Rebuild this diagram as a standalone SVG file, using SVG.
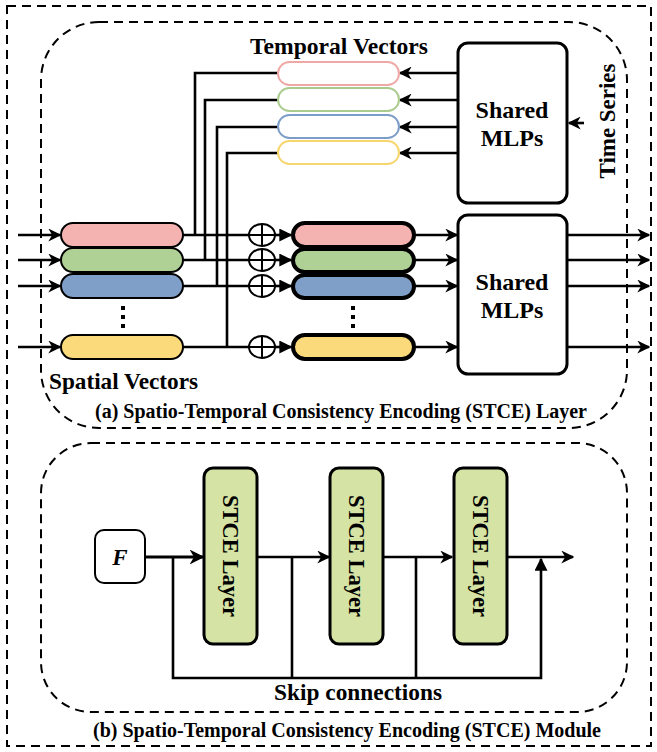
<svg xmlns="http://www.w3.org/2000/svg" width="657" height="752" viewBox="0 0 657 752">
<style>
.dash{fill:none;stroke:#000;stroke-width:2;stroke-dasharray:9 6}
.ln{fill:none;stroke:#000;stroke-width:2.6}
.sv{stroke:#000;stroke-width:2}
.bv{stroke:#000;stroke-width:4}
.tv{fill:#fff;stroke-width:2}
.box{fill:#fff;stroke:#000;stroke-width:3}
.layer{fill:#D5E3A4;stroke:#000;stroke-width:3}
.t{font-family:"Liberation Serif",serif;font-weight:bold;fill:#000}
.pk{fill:#F4B3B0}.gr{fill:#B0D196}.bl{fill:#7F9FC8}.yl{fill:#FADA7A}
</style>
<defs>
<marker id="a" viewBox="0 0 10 10" refX="9" refY="5" markerWidth="5" markerHeight="5" orient="auto" markerUnits="strokeWidth">
<path d="M0,0 L10,5 L0,10 L3,5 z" fill="#000"/>
</marker>
<marker id="b" viewBox="0 0 10 10" refX="9" refY="5" markerWidth="5" markerHeight="5" orient="auto" markerUnits="strokeWidth">
<path d="M0,0 L10,5 L0,10 z" fill="#000"/>
</marker>
</defs>

<g id="frames">
<rect class="dash" x="7" y="6" width="644" height="740"/>
<rect class="dash" x="41" y="22" width="586" height="406" rx="58"/>
<rect class="dash" x="41" y="443" width="586" height="269" rx="50"/>
</g>

<g id="connectors">
<line class="ln" x1="18" y1="235" x2="60" y2="235" marker-end="url(#a)"/>
<line class="ln" x1="18" y1="260" x2="60" y2="260" marker-end="url(#a)"/>
<line class="ln" x1="18" y1="286" x2="60" y2="286" marker-end="url(#a)"/>
<line class="ln" x1="18" y1="347" x2="60" y2="347" marker-end="url(#a)"/>
<line class="ln" x1="183" y1="235" x2="249" y2="235"/>
<line class="ln" x1="183" y1="260" x2="249" y2="260"/>
<line class="ln" x1="183" y1="286" x2="249" y2="286"/>
<line class="ln" x1="183" y1="347" x2="249" y2="347"/>
<polyline class="ln" points="278,73 195,73 195,235"/>
<polyline class="ln" points="278,100 205,100 205,260"/>
<polyline class="ln" points="278,127 217,127 217,286"/>
<polyline class="ln" points="278,153 227,153 227,347"/>
<line class="ln" x1="275" y1="235" x2="291" y2="235" marker-end="url(#b)"/>
<line class="ln" x1="275" y1="260" x2="291" y2="260" marker-end="url(#b)"/>
<line class="ln" x1="275" y1="286" x2="291" y2="286" marker-end="url(#b)"/>
<line class="ln" x1="275" y1="347" x2="291" y2="347" marker-end="url(#b)"/>
<line class="ln" x1="415" y1="235" x2="457" y2="235" marker-end="url(#a)"/>
<line class="ln" x1="415" y1="260" x2="457" y2="260" marker-end="url(#a)"/>
<line class="ln" x1="415" y1="286" x2="457" y2="286" marker-end="url(#a)"/>
<line class="ln" x1="415" y1="347" x2="457" y2="347" marker-end="url(#a)"/>
<line class="ln" x1="567" y1="235" x2="649" y2="235" marker-end="url(#a)"/>
<line class="ln" x1="567" y1="260" x2="649" y2="260" marker-end="url(#a)"/>
<line class="ln" x1="567" y1="286" x2="649" y2="286" marker-end="url(#a)"/>
<line class="ln" x1="567" y1="347" x2="649" y2="347" marker-end="url(#a)"/>
<line class="ln" x1="458" y1="73" x2="400" y2="73" marker-end="url(#a)"/>
<line class="ln" x1="458" y1="100" x2="400" y2="100" marker-end="url(#a)"/>
<line class="ln" x1="458" y1="127" x2="400" y2="127" marker-end="url(#a)"/>
<line class="ln" x1="458" y1="153" x2="400" y2="153" marker-end="url(#a)"/>
<line class="ln" x1="584" y1="123" x2="569" y2="123" marker-end="url(#a)"/>
<line class="ln" x1="145" y1="557" x2="203" y2="557" marker-end="url(#a)" style="stroke-width:3"/>
<line class="ln" x1="257" y1="557" x2="329" y2="557" marker-end="url(#a)"/>
<line class="ln" x1="383" y1="557" x2="452" y2="557" marker-end="url(#a)"/>
<line class="ln" x1="507" y1="557" x2="573" y2="557" marker-end="url(#a)"/>
<polyline class="ln" points="173,557 173,678 541,678 541,559" marker-end="url(#b)"/>
<line class="ln" x1="292" y1="557" x2="292" y2="678"/>
<line class="ln" x1="416" y1="557" x2="416" y2="678"/>
</g>

<g id="spatial-vectors">
<rect class="sv pk" x="61" y="223" width="122" height="24" rx="12"/>
<rect class="sv gr" x="61" y="248" width="122" height="24" rx="12"/>
<rect class="sv bl" x="61" y="274" width="122" height="24" rx="12"/>
<rect class="sv yl" x="61" y="335" width="122" height="24" rx="12"/>
<rect x="121" y="306" width="4" height="4"/>
<rect x="121" y="315" width="4" height="4"/>
<rect x="121" y="324" width="4" height="4"/>
<text class="t" x="49" y="389" font-size="24" textLength="149" lengthAdjust="spacingAndGlyphs">Spatial Vectors</text>
</g>

<g id="temporal-vectors">
<rect class="tv" stroke="#EEA9A6" x="278" y="62" width="121" height="23" rx="11.5"/>
<rect class="tv" stroke="#A9CC8E" x="278" y="88" width="121" height="23" rx="11.5"/>
<rect class="tv" stroke="#7D9DC9" x="278" y="115" width="121" height="23" rx="11.5"/>
<rect class="tv" stroke="#F8D66E" x="278" y="141" width="121" height="23" rx="11.5"/>
<text class="t" x="339" y="54" font-size="24" text-anchor="middle" textLength="178" lengthAdjust="spacingAndGlyphs">Temporal Vectors</text>
</g>

<g id="plus">
<g class="ln" style="stroke-width:2">
<ellipse cx="262" cy="235" rx="13" ry="11"/><path d="M249,235H275M262,224V246"/>
<ellipse cx="262" cy="260" rx="13" ry="11"/><path d="M249,260H275M262,249V271"/>
<ellipse cx="262" cy="286" rx="13" ry="11"/><path d="M249,286H275M262,275V297"/>
<ellipse cx="262" cy="347" rx="13" ry="11"/><path d="M249,347H275M262,336V358"/>
</g>
</g>

<g id="fused-vectors">
<rect class="bv pk" x="293" y="223" width="121" height="24" rx="12"/>
<rect class="bv gr" x="293" y="249" width="121" height="23" rx="11.5"/>
<rect class="bv bl" x="293" y="275" width="121" height="23" rx="11.5"/>
<rect class="bv yl" x="293" y="335" width="121" height="24" rx="12"/>
<rect x="351" y="306" width="4" height="4"/>
<rect x="351" y="315" width="4" height="4"/>
<rect x="351" y="324" width="4" height="4"/>
</g>

<g id="mlp-top">
<rect class="box" x="458" y="43" width="109" height="160" rx="10"/>
<text class="t" x="512" y="118" font-size="24" text-anchor="middle">Shared</text>
<text class="t" x="512" y="146" font-size="24" text-anchor="middle">MLPs</text>
</g>
<g id="mlp-bottom">
<rect class="box" x="458" y="215" width="109" height="159" rx="10"/>
<text class="t" x="512" y="290" font-size="24" text-anchor="middle">Shared</text>
<text class="t" x="512" y="318" font-size="24" text-anchor="middle">MLPs</text>
</g>
<text class="t" font-size="23" text-anchor="middle" textLength="115" lengthAdjust="spacingAndGlyphs" transform="translate(615,121) rotate(-90)">Time Series</text>

<text class="t" x="341" y="418" font-size="20" text-anchor="middle" textLength="492" lengthAdjust="spacingAndGlyphs">(a) Spatio-Temporal Consistency Encoding (STCE) Layer</text>

<g id="input-F">
<rect class="box" x="95" y="530" width="50" height="53" rx="9" style="stroke-width:2"/>
<text x="120" y="565" font-family="Liberation Serif,serif" font-weight="bold" font-style="italic" font-size="23" text-anchor="middle">F</text>
</g>
<g id="stce1">
<rect class="layer" x="204" y="468" width="53" height="176" rx="9"/>
<text class="t" font-size="23" text-anchor="middle" textLength="122" lengthAdjust="spacingAndGlyphs" transform="translate(223,556) rotate(90)">STCE Layer</text>
</g>
<g id="stce2">
<rect class="layer" x="330" y="468" width="53" height="176" rx="9"/>
<text class="t" font-size="23" text-anchor="middle" textLength="122" lengthAdjust="spacingAndGlyphs" transform="translate(349,556) rotate(90)">STCE Layer</text>
</g>
<g id="stce3">
<rect class="layer" x="454" y="468" width="53" height="176" rx="9"/>
<text class="t" font-size="23" text-anchor="middle" textLength="122" lengthAdjust="spacingAndGlyphs" transform="translate(473,556) rotate(90)">STCE Layer</text>
</g>
<text class="t" x="358" y="700" font-size="23" text-anchor="middle" textLength="168" lengthAdjust="spacingAndGlyphs">Skip connections</text>
<text class="t" x="347" y="737" font-size="20" text-anchor="middle" textLength="508" lengthAdjust="spacingAndGlyphs">(b) Spatio-Temporal Consistency Encoding (STCE) Module</text>
</svg>
